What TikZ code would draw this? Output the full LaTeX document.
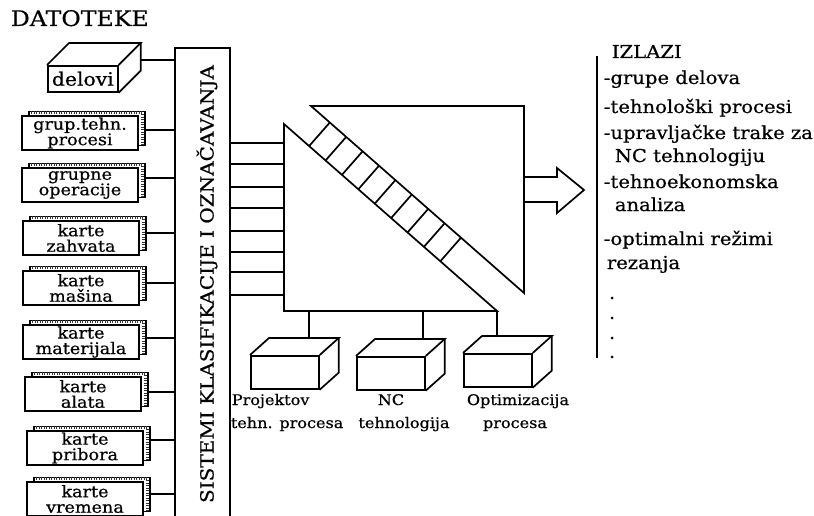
\documentclass[tikz,border=0pt]{standalone}
\usepackage{fontspec}
\setmainfont[FakeStretch=1.1,FakeBold=0.6]{DejaVu Serif}
\usetikzlibrary{calc,shadows}
\newcommand\fsz[2]{\fontsize{#1}{#2}\selectfont}
\begin{document}
\begin{tikzpicture}[x=1pt,y=-1pt,line width=1.7pt,
  card/.style={draw,fill=white,minimum width=116pt,minimum height=34pt,inner sep=0pt,align=center,font=\fsz{16}{15.5},
    copy shadow={shadow xshift=7pt,shadow yshift=4.5pt,draw=black,fill=white,line width=1.7pt}},
  perf/.style={line width=2.8pt,dash pattern=on 1.3pt off 1.2pt,black!80},
  box3d/.style={draw,fill=white,inner sep=0pt,minimum width=68pt,minimum height=33pt},
  lbl/.style={inner sep=0pt,font=\fsz{14.6}{16}},
  outtxt/.style={inner sep=0pt,anchor=base west,font=\fsz{17.8}{20}}]
\clip (0,0) rectangle (814,516);
\fill[white] (0,0) rectangle (814,516);

\node[anchor=base west,inner sep=0pt,font=\fsz{21.5}{22}] (title) at (10,26) {DATOTEKE};

% classification system column
\node[draw,fill=white,anchor=north west,minimum width=55pt,minimum height=490pt,inner sep=0pt] (sis) at (174,47) {};
\node[rotate=90,inner sep=0pt,font=\fsz{18.2}{20}] (sistxt) at (207,284) {SISTEMI KLASIFIKACIJE I OZNAČAVANJA};

% delovi box
\node[box3d,minimum width=70pt,minimum height=26pt,anchor=north west,font=\fsz{18.5}{18}] (del) at (47,65) {delovi};
\draw (del.north west) -- ++(22,-22) -- ($(del.north east)+(22,-22)$) -- (del.north east);
\draw ($(del.north east)+(22,-22)$) -- ($(del.south east)+(22,-22)$) -- (del.south east);
\coordinate (delR) at ($(del.north east)+(22,-5)$);
\draw (delR) -- (delR -| sis.west);

% cards
\foreach \n/\cx/\cy/\t/\cyy in {
  c1/80/133/{grup.tehn.\\procesi}/130,
  c2/80/185/{grupne\\operacije}/178,
  c3/81/238/{karte\\zahvata}/233,
  c4/81/288/{karte\\mašina}/283,
  c5/81/342/{karte\\materijala}/338,
  c6/83/394/{karte\\alata}/392,
  c7/85/448/{karte\\pribora}/440,
  c8/85/499/{karte\\vremena}/494}{
  \node[card] (\n) at (\cx,\cy) {\t};
  \draw[perf] ([shift={(10,-2.3)}]\n.north west) -- ([shift={(3.6,-2.3)}]\n.north east) -- ([shift={(3.6,-6.5)}]\n.south east);
  \draw (\n.east |- 0,\cyy) ++(7,0) -- (sis.west |- 0,\cyy);
}

% processing block
\coordinate (TL) at (284,124);
\coordinate (BL) at (284,311);
\coordinate (BR) at (497,311);
\coordinate (UL) at (311,106);
\coordinate (UR) at (524,106);
\coordinate (URB) at (524,293);
\draw (TL) -- (BL) -- (BR) -- cycle;
\draw (UL) -- (UR) -- (URB) -- cycle;
\foreach \k in {0,...,8}{
  \pgfmathsetmacro\tt{0.118+0.077*\k}
  \coordinate (r\k) at ($(TL)!\tt!(BR)$);
  \draw (r\k) -- ($(UL)!(r\k)!(URB)$);
}
\foreach \y in {143,164,187,208,231,252,272,295}{
  \draw (sis.east |- 0,\y) -- (TL |- 0,\y);
}

% bottom boxes
\node[box3d,anchor=north west] (b1) at (250,355) {};
\node[box3d,anchor=north west] (b2) at (356,356) {};
\node[box3d,anchor=north west] (b3) at (463,353) {};
\foreach \b in {b1,b2,b3}{
  \draw (\b.north west) -- ++(19,-17) -- ($(\b.north east)+(19,-17)$) -- (\b.north east);
  \draw ($(\b.north east)+(19,-17)$) -- ($(\b.south east)+(19,-17)$) -- (\b.south east);
}
\coordinate (k1) at ($(b1.north west)+(59,-17)$);
\coordinate (k2) at ($(b2.north west)+(67,-17)$);
\coordinate (k3) at ($(b3.north west)+(34,-17)$);
\draw (k1) -- (k1 |- BL);
\draw (k2) -- (k2 |- BL);
\draw (k3) -- (k3 |- BL);

\node[lbl,anchor=base west] (p1) at (231,405) {Projektov};
\node[lbl,anchor=base west] (p2) at (230,428) {tehn. procesa};
\node[lbl,anchor=base] (n1) at (391,405) {NC};
\node[lbl,anchor=base] (n2) at (404,428) {tehnologija};
\node[lbl,anchor=base] (q1) at (518,405) {Optimizacija};
\node[lbl,anchor=base] (q2) at (515,428) {procesa};

% output arrow
\draw (URB |- 0,177) -- (557,177) -- (557,168) -- (584,190) -- (557,213) -- (557,202) -- (URB |- 0,202);

% outputs
\coordinate (ot) at (597,56);
\coordinate (ob) at (597,358);
\draw (ot) -- (ob);
\node[outtxt] (i0) at (611,58) {IZLAZI};
\node[outtxt] (i1) at (603,84) {-grupe delova};
\node[outtxt] (i2) at (603,113) {-tehnološki procesi};
\node[outtxt] (i3) at (603,139) {-upravljačke trake za};
\node[outtxt] (i4) at (614,162) {NC tehnologiju};
\node[outtxt] (i5) at (603,188) {-tehnoekonomska};
\node[outtxt] (i6) at (614,211) {analiza};
\node[outtxt] (i7) at (603,245) {-optimalni režimi};
\node[outtxt] (i8) at (606,269) {rezanja};
\foreach \y in {298,318,338,357}{\fill (612,\y) circle (1.5);}
\end{tikzpicture}
\end{document}
